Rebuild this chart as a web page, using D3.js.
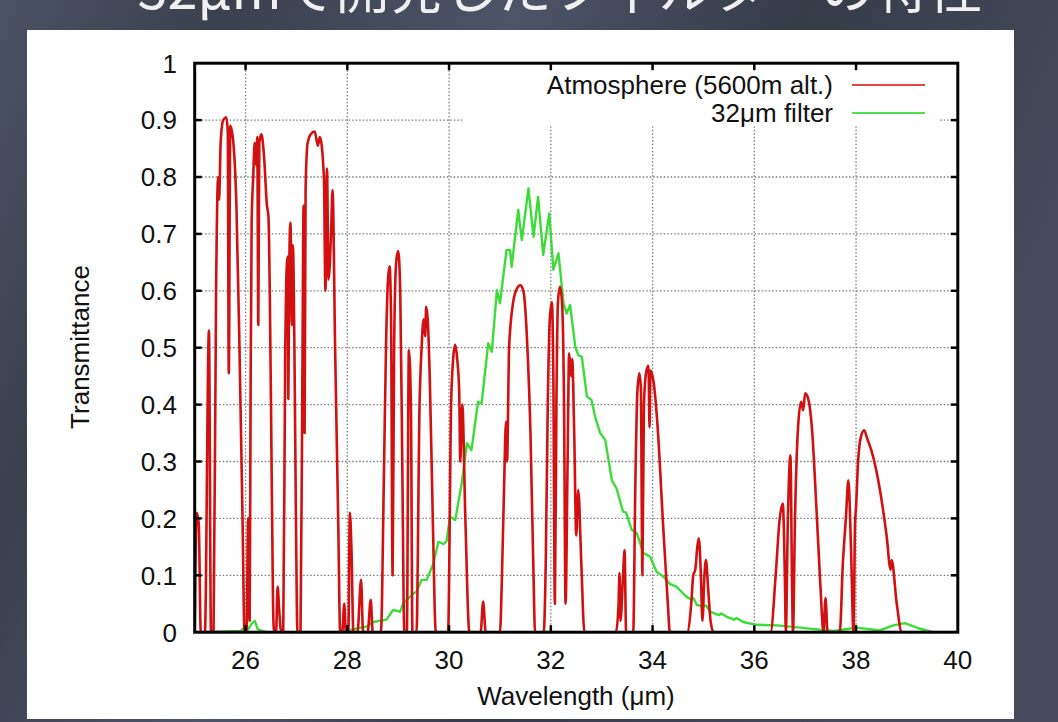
<!DOCTYPE html>
<html>
<head>
<meta charset="utf-8">
<script src="https://cdn.jsdelivr.net/npm/d3@7"></script>
<style>
  body { margin: 0; background: #3b414e; }
  svg { display: block; }
  text { font-family: "Liberation Sans", Arial, Helvetica, sans-serif; }
</style>
</head>
<body>
<div id="chart"></div>
<script>
// tick values / labels
const xTicks = [26, 28, 30, 32, 34, 36, 38, 40]
const xTickLabels = ["26", "28", "30", "32", "34", "36", "38", "40"]
const yTicks = [0, 0.1, 0.2, 0.3, 0.4, 0.5, 0.6, 0.7, 0.8, 0.9, 1]
const yTickLabels = ["0", "0.1", "0.2", "0.3", "0.4", "0.5", "0.6", "0.7", "0.8", "0.9", "1"]

const seriesNames = ["Atmosphere (5600m alt.)", "32\u03bcm filter"]

// atmosphere transmittance, [wavelength um, transmittance]
const atmosphere = [
  [25.00,0],[25.04,0.21],[25.08,0.19],[25.12,0],
  [25.2,0],[25.28,0.53],[25.32,0],
  [25.37,0],[25.42,0.6],[25.46,0.8],[25.48,0.76],[25.51,0.86],[25.56,0.9],[25.62,0.905],[25.65,0.88],[25.67,0.455],[25.7,0.89],[25.76,0.86],[25.82,0.75],[25.88,0.5],[25.94,0.2],[25.98,0],
  [26.02,0],[26.05,0.2],[26.08,0.02],[26.1,0.45],[26.12,0.72],[26.15,0.8],[26.18,0.86],[26.21,0.82],[26.23,0.87],[26.25,0.54],[26.27,0.86],[26.31,0.875],[26.36,0.84],[26.42,0.75],[26.45,0.73],[26.5,0.4],[26.54,0.05],[26.56,0],
  [26.6,0],[26.63,0.08],[26.66,0.04],[26.7,0],
  [26.74,0],[26.78,0.5],[26.8,0.62],[26.83,0.66],[26.84,0.41],[26.86,0.65],[26.88,0.72],[26.9,0.62],[26.91,0.54],[26.93,0.68],[26.96,0.5],[26.99,0.2],[27.02,0],
  [27.08,0],[27.12,0.5],[27.14,0.75],[27.16,0.35],[27.18,0.78],[27.22,0.86],[27.28,0.875],[27.36,0.88],[27.42,0.855],[27.46,0.87],[27.54,0.8],[27.57,0.6],[27.6,0.815],[27.63,0.62],[27.68,0.7],[27.71,0.777],[27.76,0.5],[27.82,0.2],[27.86,0],
  [27.9,0],[27.94,0.05],[27.97,0],[28.02,0],[28.05,0.21],[28.08,0.15],[28.12,0],
  [28.2,0],[28.27,0.092],[28.31,0],[28.4,0],[28.46,0.057],[28.5,0],
  [28.66,0],[28.72,0.28],[28.76,0.5],[28.8,0.62],[28.83,0.643],[28.86,0.55],[28.89,0.1],[28.92,0.5],[28.96,0.65],[29.0,0.67],[29.04,0.6],[29.08,0.3],[29.12,0],
  [29.17,0],[29.21,0.496],[29.25,0.4],[29.28,0],
  [29.36,0],[29.42,0.4],[29.46,0.5],[29.5,0.55],[29.53,0.52],[29.55,0.572],[29.58,0.55],[29.62,0.45],[29.68,0.2],[29.74,0],
  [29.98,0],[30.04,0.4],[30.08,0.48],[30.12,0.505],[30.16,0.48],[30.2,0.42],[30.22,0.3],[30.26,0.4],[30.32,0.2],[30.4,0],
  [30.62,0],[30.67,0.054],[30.72,0],
  [31.0,0],[31.04,0.1],[31.08,0.25],[31.12,0.37],[31.14,0.3],[31.18,0.5],[31.26,0.58],[31.34,0.605],[31.4,0.61],[31.46,0.6],[31.54,0.5],[31.6,0.35],[31.66,0.1],[31.69,0],
  [31.86,0],[31.9,0.12],[31.94,0.4],[31.98,0.55],[32.02,0.58],[32.05,0.45],[32.08,0.05],[32.11,0.4],[32.14,0.58],[32.18,0.607],[32.22,0.58],[32.26,0.4],[32.29,0.05],[32.33,0.3],[32.36,0.49],[32.4,0.45],[32.42,0.48],[32.46,0.35],[32.5,0.17],[32.54,0.25],[32.6,0.12],[32.66,0],
  [33.28,0],[33.33,0.045],[33.35,0.104],[33.37,0.02],[33.42,0.1],[33.45,0.144],[33.48,0],
  [33.62,0],[33.66,0.25],[33.7,0.42],[33.74,0.455],[33.77,0.43],[33.8,0.1],[33.83,0.4],[33.88,0.46],[33.92,0.468],[33.94,0.36],[33.96,0.46],[34.02,0.44],[34.1,0.36],[34.2,0.2],[34.3,0.05],[34.34,0],
  [34.68,0],[34.76,0.05],[34.8,0.1],[34.84,0.11],[34.88,0.15],[34.91,0.165],[34.95,0.1],[34.98,0.02],[35.02,0.1],[35.05,0.127],[35.09,0.08],[35.14,0.02],[35.2,0],
  [36.32,0],[36.42,0.1],[36.5,0.2],[36.56,0.226],[36.6,0.1],[36.62,0],[36.66,0.2],[36.71,0.311],[36.74,0.1],[36.76,0],[36.8,0.2],[36.86,0.36],[36.92,0.405],[36.96,0.39],[37.0,0.42],[37.06,0.41],[37.14,0.35],[37.22,0.22],[37.3,0.08],[37.36,0],[37.4,0.06],[37.44,0],
  [37.68,0],[37.74,0.12],[37.8,0.2],[37.85,0.267],[37.9,0.15],[37.95,0],[37.98,0.19],[38.0,0.22],[38.04,0.3],[38.1,0.345],[38.16,0.355],[38.22,0.34],[38.3,0.32],[38.47,0.25],[38.6,0.17],[38.68,0.11],[38.7,0.127],[38.8,0.05],[38.9,0],
  [40,0]
]

// 32um filter transmittance
const filter32 = [
  [25.0,0],[25.5,0.001],[25.9,0.002],[26.0,0.01],[26.05,0.005],[26.12,0.015],[26.18,0.02],[26.24,0.005],[26.4,0],
  [27.0,0],[27.6,0],[27.9,0],[28.0,0.002],[28.05,0.004],[28.38,0.01],[28.51,0.018],[28.77,0.022],[28.9,0.039],
  [29.04,0.036],[29.1,0.051],[29.3,0.068],[29.36,0.071],[29.46,0.092],[29.56,0.092],[29.69,0.12],[29.79,0.159],
  [29.89,0.155],[29.95,0.16],[30.02,0.203],[30.12,0.197],[30.25,0.262],[30.35,0.332],[30.44,0.32],[30.57,0.405],
  [30.64,0.402],[30.77,0.508],[30.84,0.493],[30.94,0.601],[31.0,0.578],[31.13,0.672],[31.2,0.672],[31.23,0.642],
  [31.36,0.742],[31.43,0.689],[31.56,0.78],[31.66,0.695],[31.75,0.765],[31.85,0.663],[31.97,0.736],[32.05,0.637],
  [32.15,0.666],[32.25,0.578],[32.31,0.56],[32.38,0.575],[32.48,0.502],[32.54,0.487],[32.61,0.484],[32.71,0.414],
  [32.8,0.408],[32.87,0.379],[32.97,0.35],[33.07,0.338],[33.2,0.267],[33.29,0.253],[33.42,0.212],[33.48,0.21],
  [33.59,0.18],[33.69,0.174],[33.82,0.139],[33.95,0.133],[34.08,0.106],[34.21,0.098],[34.34,0.085],[34.47,0.08],
  [34.6,0.068],[34.67,0.062],[34.75,0.058],[34.8,0.06],[34.87,0.048],[35.0,0.045],[35.05,0.047],[35.13,0.036],
  [35.3,0.03],[35.35,0.033],[35.46,0.027],[35.6,0.022],[35.65,0.025],[35.78,0.018],[36.05,0.013],[36.44,0.012],
  [36.9,0.008],[37.23,0.005],[37.55,0.002],[38.01,0.008],[38.47,0.003],[38.73,0.012],[38.96,0.016],[39.26,0.006],[39.52,0]
]

const colors = ["#d21010", "#3cdc38"]
const legendColors = ["#e04848", "#4fe04f"]

const W = 1058, H = 722

const svg = d3.select("#chart").append("svg")
    .attr("width", W)
    .attr("height", H)

// slide background
const defs = svg.append("defs")
const bg = defs.append("linearGradient").attr("id", "bg").attr("x1", 0).attr("y1", 0).attr("x2", 1).attr("y2", 0.3)
bg.selectAll("stop")
    .data([["0%", "#4b5262"], ["20%", "#3a404d"], ["45%", "#4d5466"], ["70%", "#363b48"], ["100%", "#454b5a"]])
    .enter().append("stop")
    .attr("offset", d => d[0])
    .attr("stop-color", d => d[1])

svg.append("rect").attr("width", W).attr("height", H).attr("fill", "url(#bg)")

// slide title, mostly cut off at the top like in the slide
svg.append("text")
    .attr("x", 560)
    .attr("y", 9)
    .attr("text-anchor", "middle")
    .style("font-family", "'Noto Sans CJK JP', sans-serif")
    .style("font-size", "54px")
    .attr("fill", "#f0f0f0")
    .text("32\u03bcmで開発したフィルターの特性")

// white panel
svg.append("rect")
    .attr("x", 27).attr("y", 30)
    .attr("width", 987).attr("height", 689)
    .attr("fill", "#ffffff")

const xScale = d3.scaleLinear().domain([25, 40]).range([194.7, 957.8])
const yScale = d3.scaleLinear().domain([0, 1]).range([632.2, 63.2])

const plotTop = yScale(1), plotBottom = yScale(0)
const plotLeft = xScale(25), plotRight = xScale(40)

// grid
svg.append("g")
    .selectAll("line")
    .data(xTicks.filter(d => d < 40))
    .enter().append("line")
    .attr("x1", d => xScale(d)).attr("x2", d => xScale(d))
    .attr("y1", plotTop).attr("y2", plotBottom)
    .attr("stroke", "#7a7a7a").attr("stroke-width", 1.3)
    .attr("stroke-dasharray", "1.5,2")

svg.append("g")
    .selectAll("line")
    .data(yTicks.filter(d => d > 0 && d < 1))
    .enter().append("line")
    .attr("x1", plotLeft).attr("x2", plotRight)
    .attr("y1", d => yScale(d)).attr("y2", d => yScale(d))
    .attr("stroke", "#7a7a7a").attr("stroke-width", 1.3)
    .attr("stroke-dasharray", "1.5,2")

// key area hides the grid
svg.append("rect")
    .attr("x", 462).attr("y", plotTop + 1)
    .attr("width", 478).attr("height", 62)
    .attr("fill", "#ffffff")

// curves
const clip = defs.append("clipPath").attr("id", "plotclip")
clip.append("rect")
    .attr("x", plotLeft).attr("y", plotTop)
    .attr("width", plotRight - plotLeft).attr("height", plotBottom - plotTop)

const atmLine = d3.line()
    .x(d => xScale(d[0]))
    .y(d => yScale(d[1]))
    .curve(d3.curveMonotoneX)

const filterLine = d3.line()
    .x(d => xScale(d[0]))
    .y(d => yScale(d[1]))

const curves = svg.append("g").attr("clip-path", "url(#plotclip)")

curves.append("path")
    .datum(filter32)
    .attr("fill", "none")
    .attr("stroke", colors[1])
    .attr("stroke-width", 2.4)
    .attr("stroke-linejoin", "round")
    .attr("d", filterLine)

curves.append("path")
    .datum(atmosphere)
    .attr("fill", "none")
    .attr("stroke", colors[0])
    .attr("stroke-width", 2.6)
    .attr("stroke-linejoin", "round")
    .attr("d", atmLine)

// frame + inward ticks
svg.append("rect")
    .attr("x", plotLeft).attr("y", plotTop)
    .attr("width", plotRight - plotLeft).attr("height", plotBottom - plotTop)
    .attr("fill", "none").attr("stroke", "#000").attr("stroke-width", 3)

const tickLen = 7
const inner = xTicks.filter(d => d > 25 && d < 40)
const innerY = yTicks.filter(d => d > 0 && d < 1)
const ticks = svg.append("g").attr("stroke", "#000").attr("stroke-width", 2.5)
inner.forEach(d => {
    ticks.append("line").attr("x1", xScale(d)).attr("x2", xScale(d)).attr("y1", plotBottom).attr("y2", plotBottom - tickLen)
    ticks.append("line").attr("x1", xScale(d)).attr("x2", xScale(d)).attr("y1", plotTop).attr("y2", plotTop + tickLen)
})
innerY.forEach(d => {
    ticks.append("line").attr("x1", plotLeft).attr("x2", plotLeft + tickLen).attr("y1", yScale(d)).attr("y2", yScale(d))
    ticks.append("line").attr("x1", plotRight).attr("x2", plotRight - tickLen).attr("y1", yScale(d)).attr("y2", yScale(d))
})

// tick labels
svg.append("g")
    .selectAll("text")
    .data(xTicks)
    .enter().append("text")
    .attr("x", d => xScale(d))
    .attr("y", 669)
    .attr("text-anchor", "middle")
    .style("font-size", "26px")
    .attr("fill", "#111")
    .text((d, i) => xTickLabels[i])

svg.append("g")
    .selectAll("text")
    .data(yTicks)
    .enter().append("text")
    .attr("x", 177)
    .attr("y", d => yScale(d))
    .attr("dy", "0.36em")
    .attr("text-anchor", "end")
    .style("font-size", "26px")
    .attr("fill", "#111")
    .text((d, i) => yTickLabels[i])

// axis titles
svg.append("text")
    .attr("x", 576)
    .attr("y", 705)
    .attr("text-anchor", "middle")
    .style("font-size", "26px")
    .attr("fill", "#111")
    .text("Wavelength (\u03bcm)")

svg.append("text")
    .attr("transform", "translate(89,347) rotate(-90)")
    .attr("text-anchor", "middle")
    .style("font-size", "26px")
    .attr("fill", "#111")
    .text("Transmittance")

// key
const key = svg.append("g")
seriesNames.forEach((name, i) => {
    const ky = 85 + i * 28
    key.append("text")
        .attr("x", 833).attr("y", ky)
        .attr("dy", "0.36em")
        .attr("text-anchor", "end")
        .style("font-size", "26px")
        .attr("fill", "#111")
        .text(name)
    key.append("line")
        .attr("x1", 852).attr("x2", 925)
        .attr("y1", ky).attr("y2", ky)
        .attr("stroke", legendColors[i]).attr("stroke-width", 2)
})
</script>
</body>
</html>
